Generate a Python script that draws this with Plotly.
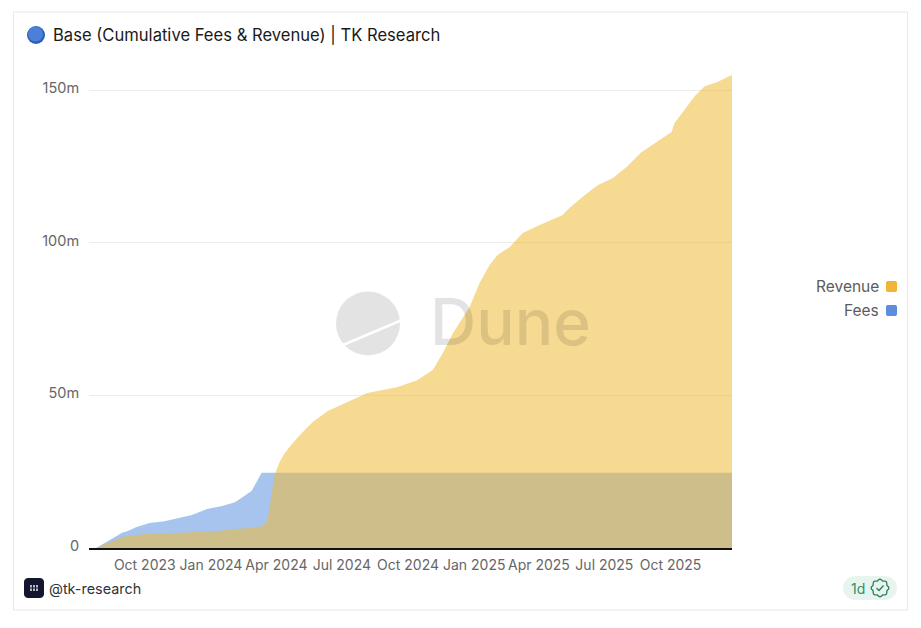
import math
import plotly.graph_objects as go

W, H = 921, 628
FONT = "Inter"

title_text = "Base (Cumulative Fees &amp; Revenue) | TK Research"
author_text = "@tk-research"
y_tick_vals = [0, 50, 100, 150]
y_tick_text = ["0", "50m", "100m", "150m"]

fees_dates = ["2023-07-31", "2023-08-02", "2023-08-19", "2023-09-05", "2023-09-13", "2023-09-25",
              "2023-10-13", "2023-11-03", "2023-11-21", "2023-12-11", "2024-01-01", "2024-01-22",
              "2024-02-09", "2024-02-20", "2024-03-03", "2024-03-10", "2024-03-17", "2025-12-31"]
fees_values = [0, 0.3, 2.6, 5.0, 5.6, 6.9,
               8.2, 8.8, 9.8, 10.8, 12.8, 13.8,
               15.0, 16.7, 18.7, 21.6, 24.7, 24.7]

revenue_dates = ["2023-07-31", "2023-08-02", "2023-08-22", "2023-09-05", "2023-09-23", "2023-10-16",
                 "2023-12-01", "2024-01-16", "2024-02-09", "2024-03-07", "2024-03-17", "2024-03-24",
                 "2024-03-27", "2024-03-31", "2024-04-04", "2024-04-11", "2024-04-18", "2024-05-05",
                 "2024-05-27", "2024-06-17", "2024-07-22", "2024-08-11", "2024-09-21", "2024-10-19",
                 "2024-11-10", "2024-11-24", "2024-12-08", "2024-12-31", "2025-01-14", "2025-01-28",
                 "2025-02-08", "2025-02-25", "2025-03-15", "2025-04-07", "2025-05-09", "2025-05-19",
                 "2025-06-06", "2025-06-27", "2025-07-18", "2025-08-06", "2025-08-27", "2025-09-17",
                 "2025-10-08", "2025-10-12", "2025-10-29", "2025-11-09", "2025-11-23", "2025-12-10",
                 "2025-12-24", "2025-12-31"]
revenue_values = [0, 0.2, 2.3, 3.6, 4.3, 4.7,
                  5.1, 5.6, 6.2, 6.6, 7.2, 8.6,
                  11.5, 18.0, 24.0, 28.2, 31.1, 36.0,
                  41.3, 44.9, 48.5, 50.8, 52.7, 55.0,
                  58.3, 63.9, 70.4, 78.9, 86.8, 92.7,
                  96.0, 98.6, 103.2, 105.8, 109.0, 111.4,
                  115.0, 118.9, 121.2, 124.8, 129.7, 133.0,
                  136.3, 139.2, 144.4, 148.0, 151.3, 152.6,
                  154.3, 155.0]


def px(x):
    return x / W


def py(y):
    return 1 - y / H


def shape(kind, x0, y0, x1, y1, fill=None, line=None, lw=0, layer="above"):
    return dict(type=kind, xref="paper", yref="paper", x0=px(x0), y0=py(y0), x1=px(x1), y1=py(y1),
                fillcolor=fill, line=dict(color=line, width=lw), layer=layer)


def path_shape(points, fill=None, line=None, lw=0, close=True):
    d = "M " + " L ".join(f"{px(a):.5f},{py(b):.5f}" for a, b in points) + (" Z" if close else "")
    return dict(type="path", xref="paper", yref="paper", path=d, fillcolor=fill,
                line=dict(color=line, width=lw), layer="above")


def rounded(x0, y0, x1, y1, r, fill):
    pts = []
    for cx, cy, start in ((x1 - r, y0 + r, -90), (x1 - r, y1 - r, 0), (x0 + r, y1 - r, 90), (x0 + r, y0 + r, 180)):
        for k in range(7):
            a = math.radians(start + k * 15)
            pts.append((cx + r * math.cos(a), cy + r * math.sin(a)))
    return path_shape(pts, fill=fill)


fig = go.Figure()
fig.add_trace(go.Scatter(x=fees_dates, y=fees_values, name="Fees", mode="lines", fill="tozeroy",
                         line=dict(width=0), fillcolor="rgba(86,141,222,0.52)"))
fig.add_trace(go.Scatter(x=revenue_dates, y=revenue_values, name="Revenue", mode="lines", fill="tozeroy",
                         line=dict(width=0), fillcolor="rgba(240,186,50,0.53)"))

shapes = [
    shape("rect", 13.5, 12, 907.5, 610, line="#e8e8e8", lw=1, layer="below"),
    shape("circle", 27, 26, 45, 44, fill="#2f5fb4"),
    shape("circle", 28, 26.5, 43, 41.5, fill="#4a80d8"),
    shape("circle", 336, 291.5, 400, 355.5, fill="rgba(0,0,0,0.11)"),
    path_shape([(343, 345), (402, 320)], line="#ffffff", lw=2.5, close=False),
    rounded(886, 281, 897, 292, 2, "#f0b438"),
    rounded(886, 305, 897, 316, 2, "#5b8fdd"),
    rounded(24, 578, 44, 598, 4, "#14152e"),
    rounded(843, 576, 897, 600, 12, "#e8f5ee"),
]
for i in range(3):
    for j in range(2):
        shapes.append(shape("rect", 30 + i * 3, 585 + j * 3.5, 32 + i * 3, 587.5 + j * 3.5, fill="#b8b8c4"))
badge = []
for k in range(48):
    a = 2 * math.pi * k / 48
    rad = 8.2 + 0.7 * math.cos(8 * a)
    badge.append((880 + rad * math.cos(a), 588 + rad * math.sin(a)))
shapes.append(path_shape(badge, line="#2f7d5f", lw=1.3))
shapes.append(path_shape([(876.5, 588), (879, 590.5), (883.5, 585.5)], line="#2f7d5f", lw=1.3, close=False))

annotations = [
    dict(text=title_text, x=px(51), y=py(35), xanchor="left", yanchor="middle",
         font=dict(size=16.6, color="#1a1a1a", family=FONT)),
    dict(text="Dune", x=px(428), y=py(321), xanchor="left", yanchor="middle",
         font=dict(size=64, color="rgba(0,0,0,0.11)", family=FONT, weight=500)),
    dict(text="Revenue", x=px(881), y=py(286), xanchor="right", yanchor="middle",
         font=dict(size=15.5, color="#5c5c5c", family=FONT)),
    dict(text="Fees", x=px(881), y=py(310), xanchor="right", yanchor="middle",
         font=dict(size=15.5, color="#5c5c5c", family=FONT)),
    dict(text=author_text, x=px(47), y=py(588), xanchor="left", yanchor="middle",
         font=dict(size=14.4, color="#333333", family=FONT)),
    dict(text="1d", x=px(858), y=py(588), xanchor="center", yanchor="middle",
         font=dict(size=14, color="#2f8f6b", family=FONT)),
]
for a in annotations:
    a.update(xref="paper", yref="paper", showarrow=False)

fig.update_layout(
    width=W, height=H, autosize=False,
    margin=dict(l=0, r=0, t=0, b=0, autoexpand=False),
    paper_bgcolor="white", plot_bgcolor="white",
    showlegend=False,
    font=dict(family=FONT, size=14, color="#666666"),
    shapes=shapes, annotations=annotations,
    xaxis=dict(domain=[px(89), px(732)], range=["2023-07-21", "2025-12-31"], type="date",
               tick0="2023-10-01", dtick="M3", tickformat="%b %Y", showgrid=False,
               showline=True, linecolor="#111111", linewidth=2,
               ticks="outside", ticklen=3, tickcolor="rgba(0,0,0,0)", zeroline=False,
               ticklabelshift=4,
               tickfont=dict(size=14, color="#666666", family=FONT)),
    yaxis=dict(domain=[py(548), py(75)], range=[0, 155], tickmode="array",
               tickvals=y_tick_vals, ticktext=y_tick_text, showgrid=True, gridcolor="#ececec",
               gridwidth=1, zeroline=False, showline=False,
               ticks="outside", ticklen=6, tickcolor="rgba(0,0,0,0)",
               ticklabelshift=-2,
               tickfont=dict(size=14.5, color="#666666", family=FONT)),
)

fig.write_html("out.html", config={"displayModeBar": False}, default_width="921px", default_height="628px",
               post_script="document.body.style.margin='0';")
